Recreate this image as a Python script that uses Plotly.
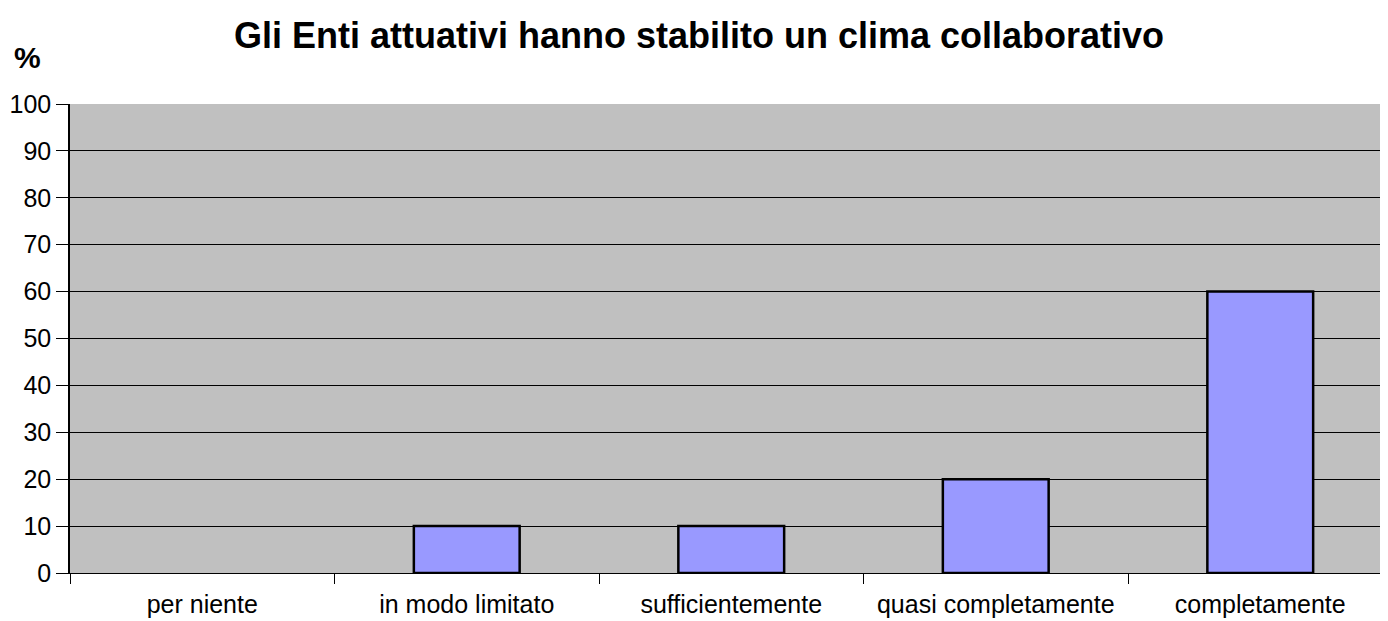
import plotly.graph_objects as go

categories = ["per niente", "in modo limitato", "sufficientemente", "quasi completamente", "completamente"]
values = [0, 10, 10, 20, 60]
y_ticks = [0, 10, 20, 30, 40, 50, 60, 70, 80, 90, 100]

FONT = "Liberation Sans, Arial, sans-serif"

# page body has an 8px margin, so the figure is sized to fit the 1388x621 window
W, H = 1380, 613
L, R, T, B = 62, 0, 96, 48

fig = go.Figure()
fig.add_trace(go.Bar(
    x=categories, y=values, width=0.4,
    marker=dict(color="#9999FF",
                line=dict(color="black", width=[0 if v == 0 else 2.5 for v in values])),
))

fig.update_layout(
    width=W, height=H, autosize=False,
    paper_bgcolor="white", plot_bgcolor="#C0C0C0",
    margin=dict(l=L, r=R, t=T, b=B),
    showlegend=False,
    title=dict(text="<b>Gli Enti attuativi hanno stabilito un clima collaborativo</b>",
               xref="container", x=(699 - 8) / W, xanchor="center",
               y=1 - (35 - 8) / H, yanchor="middle",
               font=dict(family=FONT, size=36, color="black")),
    font=dict(family=FONT, size=25, color="black"),
)

plot_w = W - L - R
plot_h = H - T - B
fig.add_annotation(text="<b>%</b>", xref="paper", yref="paper",
                   x=(27 - 8 - L) / plot_w, y=(H - B - (58 - 8)) / plot_h,
                   xanchor="center", yanchor="middle", showarrow=False,
                   font=dict(family=FONT, size=30, color="black"))

# category width in pixels ~264.5; plot area ends ~4.5px before the last boundary
fig.update_xaxes(
    type="category", range=[-0.5, 4.5 - 4.5 / 264.5],
    showgrid=False, showline=True, linecolor="black", linewidth=1,
    ticks="outside", tickson="boundaries", ticklen=10, tickcolor="black", tickwidth=1,
    ticklabelstandoff=9,
    tickfont=dict(family=FONT, size=25, color="black"),
)
fig.update_yaxes(
    range=[0, 100], tickvals=y_ticks, showgrid=True, gridcolor="black", gridwidth=1,
    showline=True, linecolor="black", linewidth=1.5, zeroline=False,
    ticks="outside", ticklen=12, tickcolor="black", tickwidth=1,
    tickfont=dict(family=FONT, size=25, color="black"),
)

fig.write_html("out.html")
